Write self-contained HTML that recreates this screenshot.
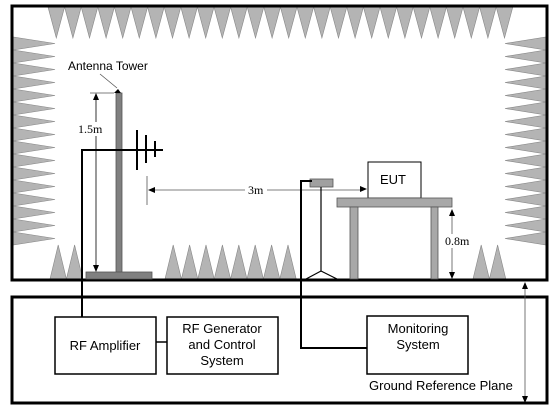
<!DOCTYPE html>
<html><head><meta charset="utf-8"><style>
body{margin:0;background:#fff}
svg{display:block;font-family:"Liberation Sans",sans-serif}
.s{font-family:"Liberation Serif",serif;font-size:12px}
</style></head><body>
<svg id="d" width="553" height="410" viewBox="0 0 553 410">
<g id="abs"></g>
<rect x="12" y="6" width="535" height="274" fill="none" stroke="#000" stroke-width="3"/>
<rect x="12" y="297" width="535" height="106" fill="none" stroke="#000" stroke-width="3"/>
<!-- tower -->
<rect x="116" y="93" width="6" height="180" fill="#808080" stroke="#555" stroke-width="0.8"/>
<rect x="86" y="272" width="66" height="7" fill="#808080" stroke="#555" stroke-width="0.8"/>
<text x="68" y="70" font-size="12">Antenna Tower</text>
<line x1="100" y1="74" x2="117" y2="88" stroke="#555" stroke-width="0.8"/>
<polygon points="118,89 114,93 121,93" fill="#000"/>
<line x1="90" y1="93" x2="114" y2="93" stroke="#555" stroke-width="0.8"/>
<line x1="96" y1="98" x2="96" y2="266" stroke="#000" stroke-width="0.8"/>
<polygon points="96,93 93,100 99,100" fill="#000"/><polygon points="96,272 93,265 99,265" fill="#000"/>
<rect x="78" y="122" width="36" height="14" fill="#fff"/>
<text class="s" x="78" y="133">1.5m</text>
<!-- antenna -->
<polyline points="82,297 82,150 163,150" fill="none" stroke="#000" stroke-width="2"/>
<line x1="137" y1="130" x2="137" y2="170" stroke="#000" stroke-width="2"/>
<line x1="146" y1="135" x2="146" y2="163" stroke="#000" stroke-width="2"/>
<line x1="155" y1="141" x2="155" y2="157" stroke="#000" stroke-width="2"/>
<line x1="82" y1="297" x2="82" y2="317" stroke="#000" stroke-width="2"/>
<!-- 3m -->
<line x1="147" y1="176" x2="147" y2="205" stroke="#555" stroke-width="0.8"/>
<line x1="150" y1="190" x2="362" y2="190" stroke="#555" stroke-width="0.8"/>
<polygon points="148,190 155,187 155,193" fill="#000"/><polygon points="367,189 360,186 360,192" fill="#000"/>
<rect x="245" y="183" width="22" height="14" fill="#fff"/>
<text class="s" x="248" y="194">3m</text>
<!-- probe -->
<rect x="310" y="179" width="23" height="8" fill="#a0a0a0" stroke="#555" stroke-width="0.8"/>
<line x1="321" y1="187" x2="321" y2="271" stroke="#000" stroke-width="1.2"/>
<polyline points="306,279 321,271 337,279" fill="none" stroke="#000" stroke-width="1.2"/>
<polyline points="312,181 301,181 301,348 367,348" fill="none" stroke="#000" stroke-width="2"/>
<!-- EUT & table -->
<rect x="368" y="162" width="53" height="36" fill="#fff" stroke="#000" stroke-width="1"/>
<text x="380" y="184" font-size="13">EUT</text>
<rect x="337" y="198" width="115" height="9" fill="#a8a8a8" stroke="#555" stroke-width="0.8"/>
<rect x="350" y="207" width="8" height="72" fill="#a8a8a8" stroke="#555" stroke-width="0.8"/>
<rect x="431" y="207" width="7" height="72" fill="#a8a8a8" stroke="#555" stroke-width="0.8"/>
<line x1="452" y1="214" x2="452" y2="274" stroke="#555" stroke-width="0.8"/>
<polygon points="452,209 449,216 455,216" fill="#000"/><polygon points="452,279 449,272 455,272" fill="#000"/>
<rect x="444" y="234" width="28" height="14" fill="#fff"/>
<text class="s" x="445" y="245">0.8m</text>
<!-- boxes -->
<rect x="55" y="317" width="101" height="57" fill="#fff" stroke="#000" stroke-width="1.5"/>
<text x="105" y="350" font-size="13" text-anchor="middle">RF Amplifier</text>
<line x1="156" y1="342" x2="167" y2="342" stroke="#000" stroke-width="1.5"/>
<rect x="167" y="317" width="111" height="57" fill="#fff" stroke="#000" stroke-width="1.5"/>
<text font-size="13" text-anchor="middle"><tspan x="222" y="333">RF Generator</tspan><tspan x="222" y="349">and Control</tspan><tspan x="222" y="365">System</tspan></text>
<rect x="367" y="316" width="101" height="58" fill="#fff" stroke="#000" stroke-width="1.5"/>
<text font-size="13" text-anchor="middle"><tspan x="418" y="333">Monitoring</tspan><tspan x="418" y="349">System</tspan></text>
<text x="369" y="390" font-size="13">Ground Reference Plane</text>
<line x1="525" y1="288" x2="525" y2="396" stroke="#555" stroke-width="0.8"/>
<polygon points="525,282 522,289 528,289" fill="#000"/><polygon points="525,403 522,396 528,396" fill="#000"/>
</svg>
<script>
const g=document.getElementById('abs');
function poly(p){const e=document.createElementNS('http://www.w3.org/2000/svg','polygon');
e.setAttribute('points',p);e.setAttribute('fill','#b4b4b4');e.setAttribute('stroke','#888');e.setAttribute('stroke-width','0.6');


g.appendChild(e);}
// top
for(let x=48;x+16.6<=515;x+=16.6)poly(`${x},7 ${x+16.6},7 ${x+8.3},38`);
// left
for(let y=37;y+13<=247;y+=13)poly(`13,${y} 13,${y+13} 55,${y+6.5}`);
// right
for(let y=37;y+13<=252;y+=13)poly(`546,${y} 546,${y+13} 505,${y+6.5}`);
// bottom groups
const groups=[[50,2],[165,8],[473,2]];
for(const [x0,n] of groups)for(let i=0;i<n;i++){const x=x0+i*16.4;poly(`${x},279 ${x+16.4},279 ${x+8.2},245`);}
</script>
</body></html>
